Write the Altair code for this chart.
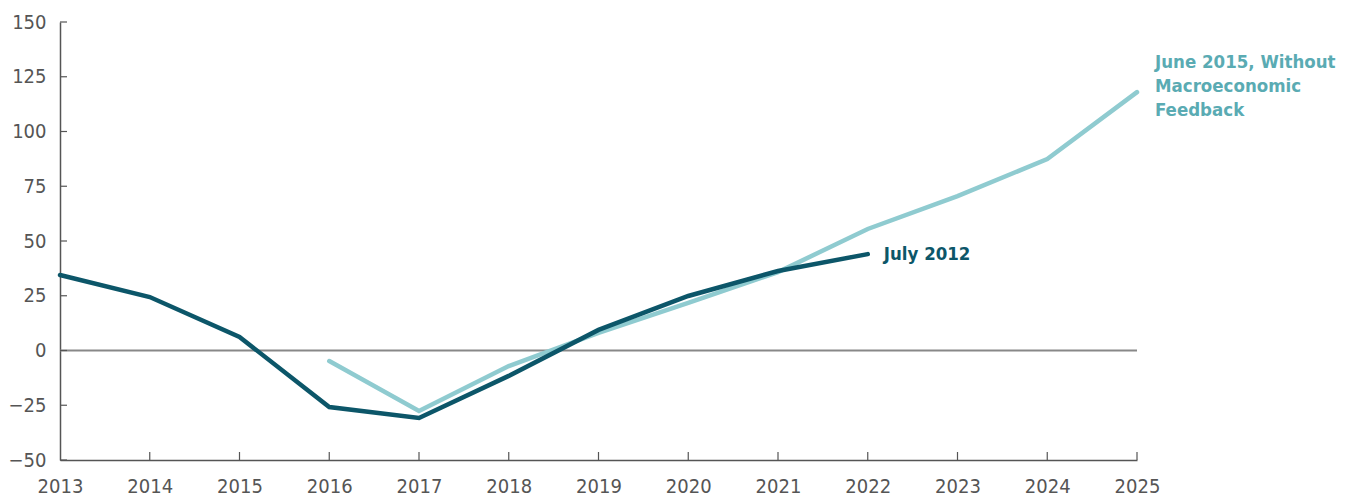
import altair as alt
import pandas as pd

years_a = [2013, 2014, 2015, 2016, 2017, 2018, 2019, 2020, 2021, 2022]
vals_a = [34.5, 24.4, 6.2, -25.8, -30.8, -11.6, 9.4, 24.9, 36.3, 44.0]
years_b = [2016, 2017, 2018, 2019, 2020, 2021, 2022, 2023, 2024, 2025]
vals_b = [-4.8, -27.6, -7.1, 8.0, 21.7, 35.8, 55.5, 70.5, 87.4, 118.0]
x_ticks = list(range(2013, 2026))
y_ticks = [-50, -25, 0, 25, 50, 75, 100, 125, 150]

DARK = "#0c5669"
LIGHT = "#8fcbd0"
LIGHT_TXT = "#5aabb3"
FONT = "'Liberation Sans Narrow', 'DejaVu Sans Condensed', 'Roboto Condensed', Roboto, sans-serif"

df_a = pd.DataFrame({"year": years_a, "value": vals_a})
df_b = pd.DataFrame({"year": years_b, "value": vals_b})

xs = alt.Scale(domain=[2013, 2025], nice=False)
ys = alt.Scale(domain=[-50, 150], nice=False)

x_axis = alt.Axis(
    values=x_ticks, format="d", title=None, grid=False, ticks=False,
    domainColor="#555", domainWidth=1.5, labelFont=FONT, labelFontSize=20,
    labelColor="#555", labelPadding=16, labelFlush=False)
y_axis = alt.Axis(
    values=y_ticks, title=None, grid=False, ticks=False,
    domainColor="#555", domainWidth=1.5, labelFont=FONT, labelFontSize=20,
    labelColor="#555", labelPadding=14)

X = alt.X("year:Q", scale=xs, axis=x_axis)
Y = alt.Y("value:Q", scale=ys, axis=y_axis)

zero = alt.Chart(pd.DataFrame({"year": [2013, 2025], "value": [0, 0]})).mark_line(
    color="#888", strokeWidth=2).encode(x=X, y=Y)

ytick_df = pd.DataFrame({"value": y_ticks})
yt = alt.Chart(ytick_df).mark_rule(color="#555", strokeWidth=1.2).encode(
    y=Y, x=alt.value(0), x2=alt.value(7))
xtick_df = pd.DataFrame({"year": x_ticks[1:]})
xt = alt.Chart(xtick_df).mark_rule(color="#555", strokeWidth=1.2).encode(
    x=X, y=alt.value(438), y2=alt.value(430))

line_b = alt.Chart(df_b).mark_line(color=LIGHT, strokeWidth=4.5, strokeCap="round").encode(x=X, y=Y)
line_a = alt.Chart(df_a).mark_line(color=DARK, strokeWidth=4.5, strokeCap="round").encode(x=X, y=Y)

lab_a = alt.Chart(pd.DataFrame({"year": [years_a[-1]], "value": [vals_a[-1]], "t": ["July 2012"]})).mark_text(
    align="left", baseline="middle", dx=16, font=FONT, fontSize=18.5, fontWeight="bold", color=DARK).encode(
    x=X, y=Y, text="t:N")
lab_b = alt.Chart(pd.DataFrame({"year": [years_b[-1]], "value": [vals_b[-1]],
                                "t": [["June 2015, Without", "Macroeconomic", "Feedback"]]})).mark_text(
    align="left", baseline="middle", dx=18, dy=-30, lineHeight=24, font=FONT, fontSize=18.5,
    fontWeight="bold", color=LIGHT_TXT).encode(x=X, y=Y, text="t")

chart = alt.layer(zero, yt, xt, line_b, line_a, lab_a, lab_b).properties(
    width=1077, height=438,
    background="white",
    autosize=alt.AutoSizeParams(type="none"),
    padding={"left": 52, "top": 14, "right": 202, "bottom": 36},
).configure_view(stroke="transparent", strokeWidth=0)

chart.save("out.html", embed_options={"renderer": "svg", "actions": False})
